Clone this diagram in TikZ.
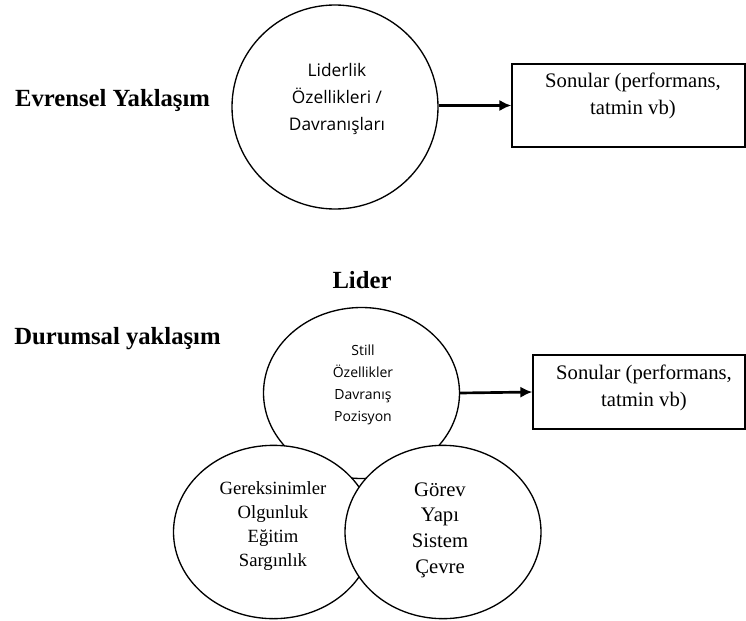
\documentclass[tikz,border=0pt]{standalone}
\usepackage{fontspec}
\setmainfont{Liberation Serif}
\newfontfamily\uisans{Open Sans}
\usetikzlibrary{shapes.geometric,arrows.meta}
\begin{document}
\begin{tikzpicture}[x=0.75pt,y=-0.75pt,
  oval/.style={ellipse,draw,line width=1pt,fill=white,inner sep=0pt},
  outbox/.style={draw,line width=1pt,inner sep=0pt},
  conn/.style={line width=2pt,-{Latex[length=9pt,width=8.5pt]}},
  headlabel/.style={inner sep=0pt,font=\fontsize{18.5}{22}\selectfont\bfseries},
  outtext/.style={inner sep=0pt,align=center,font=\fontsize{15.5}{20}\selectfont},
  bigsans/.style={inner sep=0pt,align=center,font=\uisans\fontsize{13}{20.6}\selectfont},
  smallsans/.style={inner sep=0pt,align=center,font=\uisans\fontsize{10.5}{16.5}\selectfont},
  leftser/.style={inner sep=0pt,align=center,font=\fontsize{14}{18}\selectfont},
  rightser/.style={inner sep=0pt,align=center,font=\fontsize{15.5}{19.2}\selectfont}
]
\useasboundingbox[fill=white] (0,0) rectangle (746,621);

% ---- Evrensel yaklasim ----
\node[headlabel] (evr) at (112.5,100) {Evrensel Yaklaşım};
\node[oval,minimum width=154.5pt,minimum height=153pt] (top) at (335,107) {};
\node[bigsans] (toptext) at (337,99) {Liderlik\\Özellikleri /\\Davranışları};
\node[outbox,minimum width=174.75pt,minimum height=62.25pt] (box1) at (628.5,105.5) {};
\node[outtext] (box1text) at (633,96) {Sonular (performans,\\tatmin vb)};
\draw[conn] (box1.west -| top.east) -- (box1.west);

% ---- Durumsal yaklasim ----
\node[headlabel] (lidertitle) at (362,280) {Lider};
\node[headlabel] (dur) at (117.5,339) {Durumsal yaklaşım};
\node[oval,minimum width=147pt,minimum height=128.25pt] (lider) at (361.5,393) {};
\node[oval,minimum width=150pt,minimum height=130pt] (left) at (273.5,532) {};
\node[oval,minimum width=147pt,minimum height=130pt] (right) at (443,532) {};
\node[smallsans] (lidertext) at (363,385) {Still\\Özellikler\\Davranış\\Pozisyon};
\node[leftser] (lefttext) at (273,526) {Gereksinimler\\Olgunluk\\Eğitim\\Sargınlık};
\node[rightser] (righttext) at (440,530) {Görev\\Yapı\\Sistem\\Çevre};
\node[outbox,minimum width=159pt,minimum height=55.5pt] (box2) at (639,392) {};
\node[outtext] (box2text) at (644,388) {Sonular (performans,\\tatmin vb)};
\draw[conn] (lider.east) -- (box2.west);
\end{tikzpicture}
\end{document}
